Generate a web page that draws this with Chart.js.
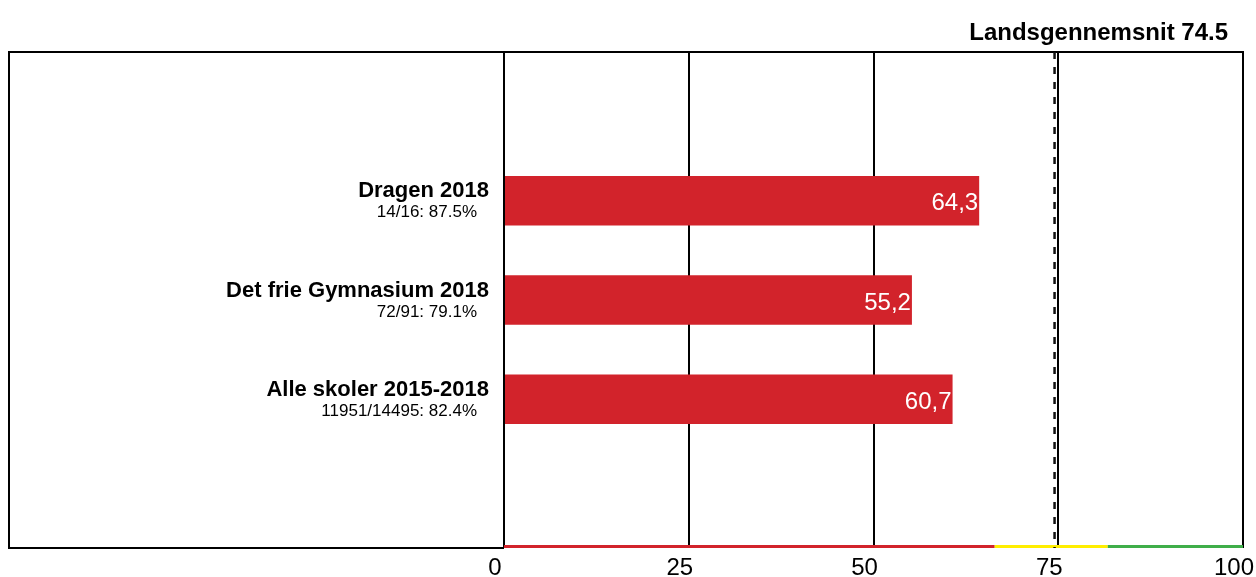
<!DOCTYPE html>
<html>
<head>
<meta charset="utf-8">
<script src="https://cdn.jsdelivr.net/npm/chart.js@4.4.0/dist/chart.umd.min.js"></script>
<style>
  html, body { margin: 0; padding: 0; background: #fff; }
</style>
</head>
<body>
<canvas id="chart" width="1256" height="577"></canvas>
<script>
// data
var categories = ['', 'Dragen 2018', 'Det frie Gymnasium 2018', 'Alle skoler 2015-2018', ''];
var subLabels = ['', '14/16: 87.5%', '72/91: 79.1%', '11951/14495: 82.4%', ''];
var scores = [null, 64.3, 55.2, 60.7, null];
var average = 74.5;
var bandLimits = [0, 66.4, 81.7, 100];
var bandColors = ['#d2232b', '#ffee00', '#3fae49'];
var xTicks = [0, 25, 50, 75, 100];

var FONT = '"Liberation Sans", Arial, Helvetica, sans-serif';
var barColor = '#d2232b';

// labels, frame, average line, colour band
var decorations = {
  id: 'decorations',
  afterDatasetsDraw: function(chart) {
    var ctx = chart.ctx;
    var area = chart.chartArea;
    var x = chart.scales.x;
    var y = chart.scales.y;
    ctx.save();

    // frame
    ctx.strokeStyle = '#000';
    ctx.lineWidth = 2;
    ctx.beginPath();
    ctx.moveTo(area.left, area.bottom);
    ctx.lineTo(y.left, area.bottom);
    ctx.lineTo(y.left, area.top);
    ctx.lineTo(area.right, area.top);
    ctx.lineTo(area.right, area.bottom);
    ctx.stroke();

    // colour band along the bottom
    ctx.lineWidth = 3;
    for (var b = 0; b < bandColors.length; b++) {
      ctx.strokeStyle = bandColors[b];
      ctx.beginPath();
      ctx.moveTo(x.getPixelForValue(bandLimits[b]), area.bottom - 1.5);
      ctx.lineTo(x.getPixelForValue(bandLimits[b + 1]), area.bottom - 1.5);
      ctx.stroke();
    }

    // average line
    var ax = x.getPixelForValue(average);
    ctx.strokeStyle = '#111';
    ctx.lineWidth = 2.5;
    ctx.setLineDash([7, 8]);
    ctx.beginPath();
    ctx.moveTo(ax, area.top);
    ctx.lineTo(ax, area.bottom);
    ctx.stroke();
    ctx.setLineDash([]);

    // title
    ctx.fillStyle = '#000';
    ctx.textAlign = 'right';
    ctx.textBaseline = 'alphabetic';
    ctx.font = 'bold 24px ' + FONT;
    ctx.fillText('Landsgennemsnit ' + average, area.right - 15, 40);

    // category labels
    for (var i = 0; i < categories.length; i++) {
      if (!categories[i]) continue;
      var cy = y.getPixelForValue(i);
      ctx.fillStyle = '#000';
      ctx.textAlign = 'right';
      ctx.font = 'bold 22px ' + FONT;
      ctx.fillText(categories[i], area.left - 15, cy - 3.5);
      ctx.font = '17px ' + FONT;
      ctx.fillText(subLabels[i], area.left - 27, cy + 16.5);

      // value label
      if (scores[i] !== null) {
        ctx.fillStyle = '#fff';
        ctx.font = '24px ' + FONT;
        ctx.fillText(scores[i].toFixed(1).replace('.', ','), x.getPixelForValue(scores[i]) - 1, cy + 9.5);
      }
    }
    ctx.restore();
  }
};

var ctx = document.getElementById('chart');

var chart = new Chart(ctx, {
  type: 'bar',
  data: {
    labels: categories,
    datasets: [{
      data: scores,
      backgroundColor: barColor,
      borderWidth: 0,
      barPercentage: 0.5,
      categoryPercentage: 1
    }]
  },
  options: {
    indexAxis: 'y',
    responsive: false,
    animation: false,
    layout: { padding: { left: 9, right: 13, top: 52, bottom: 0 } },
    plugins: {
      legend: { display: false },
      tooltip: { enabled: false },
      title: { display: false }
    },
    scales: {
      x: {
        min: 0,
        max: 100,
        afterBuildTicks: function(scale) {
          scale.ticks = xTicks.map(function(v) { return { value: v }; });
        },
        afterFit: function(scale) {
          scale.height = 29;
          scale.paddingLeft = 0;
          scale.paddingRight = 0;
        },
        border: { display: false },
        grid: { color: '#000', lineWidth: 2, drawTicks: false },
        ticks: {
          color: '#000',
          padding: 6,
          labelOffset: -9,
          font: { family: FONT, size: 24 }
        }
      },
      y: {
        afterFit: function(scale) { scale.width = 495; },
        border: { display: false },
        grid: { display: false },
        ticks: { display: false }
      }
    }
  },
  plugins: [decorations]
});
</script>
</body>
</html>
